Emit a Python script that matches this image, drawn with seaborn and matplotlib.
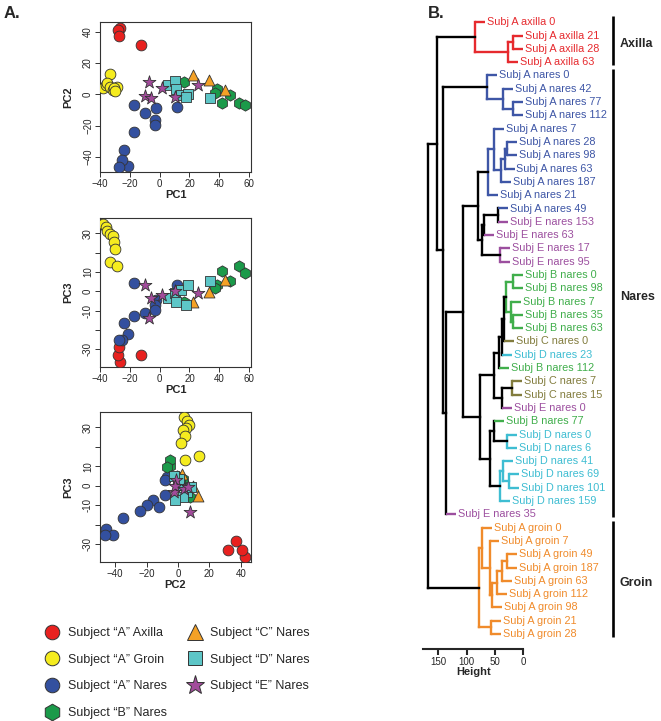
import matplotlib
matplotlib.use("Agg")
import numpy as np
import pandas as pd
import matplotlib.pyplot as plt
from matplotlib.lines import Line2D
import seaborn as sns

# ================= DATA: PCA SCORES =================
axilla_a_pc1 = [-26.9, -28.3, -27.1, -12.4]
axilla_a_pc2 = [42.4, 40.9, 37.2, 31.7]
axilla_a_pc3 = [-36.8, -32.8, -28.6, -32.8]

groin_a_pc1 = [-33.5, -28.5, -37.8, -35.9, -35.1, -33.7, -31.5, -31.0, -29.8]
groin_a_pc2 = [13.2, 4.5, 3.9, 6.0, 7.0, 5.0, 3.0, 4.3, 2.2]
groin_a_pc3 = [15.3, 13.3, 35.0, 33.0, 31.0, 29.5, 28.5, 25.3, 21.9]

nares_a_pc1 = [-17.4, 11.5, -2.7, -3.4, -3.4, -10.2, -17.4, -24.2, -21.5, -25.3, -27.6]
nares_a_pc2 = [-7.0, -8.1, -8.5, -16.2, -19.8, -12.0, -24.1, -35.3, -45.8, -41.7, -46.5]
nares_a_pc3 = [4.3, 3.1, -4.6, -7.2, -9.7, -11.1, -12.8, -16.6, -22.1, -25.1, -25.1]

nares_b_pc1 = [16.1, 38.6, 37.3, 41.8, 47.0, 53.1, 57.5]
nares_b_pc2 = [7.9, 3.2, 1.1, -5.3, -0.6, -5.3, -7.0]
nares_b_pc3 = [-5.8, 3.4, 1.7, 10.3, 5.1, 13.0, 9.5]

nares_c_pc1 = [22.5, 33.0, 44.0]
nares_c_pc2 = [12.6, 9.4, 2.5]
nares_c_pc3 = [-5.5, -0.3, 6.0]

nares_d_pc1 = [5.6, 10.2, 10.8, 14.2, 18.8, 17.6, 34.1]
nares_d_pc2 = [5.8, 8.3, 3.2, -0.2, 0.4, -1.7, -2.4]
nares_d_pc3 = [-3.4, -0.7, -5.8, 0.5, 3.4, -7.2, 5.1]

nares_e_pc1 = [-7.3, -10.2, -5.6, 1.8, 10.2, 26.0]
nares_e_pc2 = [7.9, -1.1, -2.4, 4.0, -1.7, 6.2]
nares_e_pc3 = [-13.7, 3.1, -3.4, -1.7, 0.0, -0.7]

group_names = ["Subject \u201cA\u201d Axilla", "Subject \u201cA\u201d Groin",
               "Subject \u201cA\u201d Nares", "Subject \u201cB\u201d Nares",
               "Subject \u201cC\u201d Nares", "Subject \u201cD\u201d Nares",
               "Subject \u201cE\u201d Nares"]
group_pcs = [(axilla_a_pc1, axilla_a_pc2, axilla_a_pc3),
             (groin_a_pc1, groin_a_pc2, groin_a_pc3),
             (nares_a_pc1, nares_a_pc2, nares_a_pc3),
             (nares_b_pc1, nares_b_pc2, nares_b_pc3),
             (nares_c_pc1, nares_c_pc2, nares_c_pc3),
             (nares_d_pc1, nares_d_pc2, nares_d_pc3),
             (nares_e_pc1, nares_e_pc2, nares_e_pc3)]

# ================= DATA: DENDROGRAM =================
leaf_labels = [
    "Subj A axilla 0", "Subj A axilla 21", "Subj A axilla 28", "Subj A axilla 63",
    "Subj A nares 0", "Subj A nares 42", "Subj A nares 77", "Subj A nares 112",
    "Subj A nares 7", "Subj A nares 28", "Subj A nares 98", "Subj A nares 63",
    "Subj A nares 187", "Subj A nares 21", "Subj A nares 49", "Subj E nares 153",
    "Subj E nares 63", "Subj E nares 17", "Subj E nares 95", "Subj B nares 0",
    "Subj B nares 98", "Subj B nares 7", "Subj B nares 35", "Subj B nares 63",
    "Subj C nares 0", "Subj D nares 23", "Subj B nares 112", "Subj C nares 7",
    "Subj C nares 15", "Subj E nares 0", "Subj B nares 77", "Subj D nares 0",
    "Subj D nares 6", "Subj D nares 41", "Subj D nares 69", "Subj D nares 101",
    "Subj D nares 159", "Subj E nares 35", "Subj A groin 0", "Subj A groin 7",
    "Subj A groin 49", "Subj A groin 187", "Subj A groin 63", "Subj A groin 112",
    "Subj A groin 98", "Subj A groin 21", "Subj A groin 28",
]

# merges: (child, child, height); ids >= 47 point to earlier merge rows
merges = [
    (1, 2, 17.6), (47, 3, 26.5), (0, 48, 85.0),                       # 47-49 axilla
    (6, 7, 18.7), (5, 50, 35.3), (4, 51, 64.6),                       # 50-52
    (9, 10, 29.0), (53, 11, 33.0), (54, 12, 39.0), (8, 55, 51.7),
    (56, 13, 61.7),                                                   # 53-57
    (14, 15, 44.0), (58, 16, 70.0), (17, 18, 41.0), (59, 60, 73.5),
    (57, 61, 80.5),                                                   # 58-62
    (19, 20, 18.7), (22, 23, 17.6), (21, 64, 21.7), (63, 65, 31.0),
    (66, 24, 33.5), (67, 25, 38.0), (68, 26, 42.0),                   # 63-69
    (27, 28, 20.5), (70, 29, 38.0), (69, 71, 52.5),                   # 70-72
    (31, 32, 28.0), (30, 73, 51.7), (34, 35, 24.7), (33, 75, 36.0),
    (76, 36, 41.0), (74, 77, 58.8),                                   # 73-78
    (72, 78, 76.4), (62, 79, 105.8), (80, 37, 136.0), (52, 81, 141.0),
    (49, 82, 152.8),                                                  # 79-83
    (40, 41, 29.0), (84, 42, 37.0), (85, 43, 46.0), (86, 44, 55.0),
    (39, 87, 59.5), (38, 88, 73.4), (45, 46, 57.0), (89, 90, 78.0),   # 84-91 groin
    (83, 91, 167.5),                                                  # root
]
hang = 17.5
sites = ["Axilla", "Nares", "Groin"]
height_ticks = [150, 100, 50, 0]

# ================= STYLE =================
sns.set_style("ticks")
plt.rcParams["font.family"] = ["Liberation Sans", "DejaVu Sans"]

scatter_colors = ["#E8211F", "#F5EC1F", "#33509F", "#1B9A4A", "#F4A126", "#5DC6C7", "#A24C9B"]
scatter_markers = ["o", "o", "o", "h", "^", "s", "*"]
scatter_sizes = [60, 60, 60, 66, 62, 48, 95]
legend_sizes = [10.5, 10.5, 10.5, 12, 11, 10, 14]
leaf_palette = {"A axilla": "#E62A2E", "A nares": "#3E56A6", "A groin": "#F08B2B",
                "B nares": "#40AE4B", "C nares": "#827C3D", "D nares": "#3EBDD2",
                "E nares": "#9C4F9F"}

W, H = 661, 721
fig = plt.figure(figsize=(W / 100, H / 100), dpi=100)


def px_axes(l, t, r, b):
    return fig.add_axes([l / W, 1 - b / H, (r - l) / W, (b - t) / H])


# ============================================================
# A. PCA SCATTER PANELS
# ============================================================
panels = [
    (px_axes(100, 22, 251, 172), 0, 1, (-40.1, 61.3), (-49.7, 46.3),
     [-40, -20, 0, 20, 40, 60], [-40, -20, 0, 20, 40], None),
    (px_axes(100, 218, 251, 367), 0, 2, (-40.1, 61.3), (-39.2, 37.9),
     [-40, -20, 0, 20, 40, 60], [-30, -20, -10, 0, 10, 20, 30],
     ["-30", "", "-10", "0", "10", "", "30"]),
    (px_axes(100, 412, 251, 562), 1, 2, (-49.7, 46.5), (-39.2, 37.8),
     [-40, -20, 0, 20, 40], [-30, -20, -10, 0, 10, 20, 30],
     ["-30", "", "-10", "0", "10", "", "30"]),
]
for ax, ix, iy, xl, yl, xt, yt, ytl in panels:
    for pcs, col, mk, sz in zip(group_pcs, scatter_colors, scatter_markers, scatter_sizes):
        sns.scatterplot(x=pcs[ix], y=pcs[iy], ax=ax, color=col, marker=mk, s=sz,
                        edgecolor="#333333", linewidth=0.6, legend=False, zorder=3)
    ax.set_xlim(*xl)
    ax.set_ylim(*yl)
    ax.set_xticks(xt)
    ax.set_yticks(yt)
    if ytl is not None:
        ax.set_yticklabels(ytl)
    ax.tick_params(labelsize=7, length=3.5, width=0.7, pad=1.5, color="#333333")
    for lab in ax.get_yticklabels():
        lab.set_rotation(90)
        lab.set_va("center")
    for sp in ax.spines.values():
        sp.set_linewidth(0.8)
        sp.set_color("#333333")
    ax.set_xlabel("PC%d" % (ix + 1), fontsize=8, fontweight="bold", labelpad=1)
    ax.set_ylabel("PC%d" % (iy + 1), fontsize=8, fontweight="bold", labelpad=7)

handles = [Line2D([], [], linestyle="None", marker=mk, markersize=ms,
                  markerfacecolor=col, markeredgecolor="#333333", markeredgewidth=0.7)
           for col, mk, ms in zip(scatter_colors, scatter_markers, legend_sizes)]
fig.legend(handles, group_names, ncol=2, frameon=False, fontsize=9,
           loc="upper left", bbox_to_anchor=(44 / W, 1 - 627 / H),
           handlelength=1.3, handletextpad=0.6, labelspacing=1.17,
           columnspacing=1.6, borderpad=0, borderaxespad=0)

fig.text(4 / W, 1 - 14 / H, "A.", fontsize=12, fontweight="bold", va="center")
fig.text(428 / W, 1 - 14 / H, "B.", fontsize=12, fontweight="bold", va="center")

# ============================================================
# B. DENDROGRAM
# ============================================================
px_per_h = 0.567
x0_px = 523.3
row0_px, row_px = 22.3, 13.3
axb = px_axes(420, 0, 661, 700)
axb.set_xlim((x0_px - 420) / px_per_h, (x0_px - 661) / px_per_h)
axb.set_ylim((700 - row0_px) / row_px, (0 - row0_px) / row_px)
axb.axis("off")

n = len(leaf_labels)
leaf_key = [" ".join(lab.split()[1:3]) for lab in leaf_labels]
pos = {i: float(i) for i in range(n)}
hgt = {}
members = {i: {leaf_key[i]} for i in range(n)}
lw = 1.7
for k, (a, b, h) in enumerate(merges):
    node = n + k
    pos[node] = (pos[a] + pos[b]) / 2
    hgt[node] = h
    members[node] = members[a] | members[b]
    col = leaf_palette[next(iter(members[node]))] if len(members[node]) == 1 else "black"
    axb.plot([h, h], [pos[a], pos[b]], color=col, lw=lw, solid_capstyle="projecting")
    for c in (a, b):
        if c < n:
            end = h - hang
            axb.plot([h, end], [pos[c], pos[c]], color=leaf_palette[leaf_key[c]], lw=lw,
                     solid_capstyle="butt")
            axb.text(end - 3.5, pos[c], leaf_labels[c], color=leaf_palette[leaf_key[c]],
                     fontsize=7.8, ha="left", va="center")
        else:
            axb.plot([h, hgt[c]], [pos[c], pos[c]], color=col, lw=lw,
                     solid_capstyle="projecting")

# site brackets on the right
bracket_x = (x0_px - 612.7) / px_per_h
label_x = (x0_px - 620) / px_per_h
for site in sites:
    idx = [i for i, lab in enumerate(leaf_labels) if site.lower() in lab]
    top, bot = min(idx) - 0.5, max(idx) + 0.2
    axb.plot([bracket_x, bracket_x], [top, bot], color="black", lw=1.9,
             solid_capstyle="butt")
    axb.text(label_x, (top + bot) / 2 + 0.3, site, fontsize=9, fontweight="bold",
             ha="left", va="center")

# height scale
axh = fig.add_axes([423 / W, 1 - 649 / H, (x0_px - 423) / W, 1e-4])
axh.set_xlim((x0_px - 423) / px_per_h, 0)
axh.set_xticks(height_ticks)
axh.set_yticks([])
for s in ["top", "left", "right"]:
    axh.spines[s].set_visible(False)
axh.spines["bottom"].set_linewidth(1.5)
axh.tick_params(axis="x", labelsize=7, length=4.5, width=1.5, pad=1)
axh.set_xlabel("Height", fontsize=8, fontweight="bold", labelpad=0.5)
axh.patch.set_visible(False)

fig.savefig("out.png", dpi=100)
